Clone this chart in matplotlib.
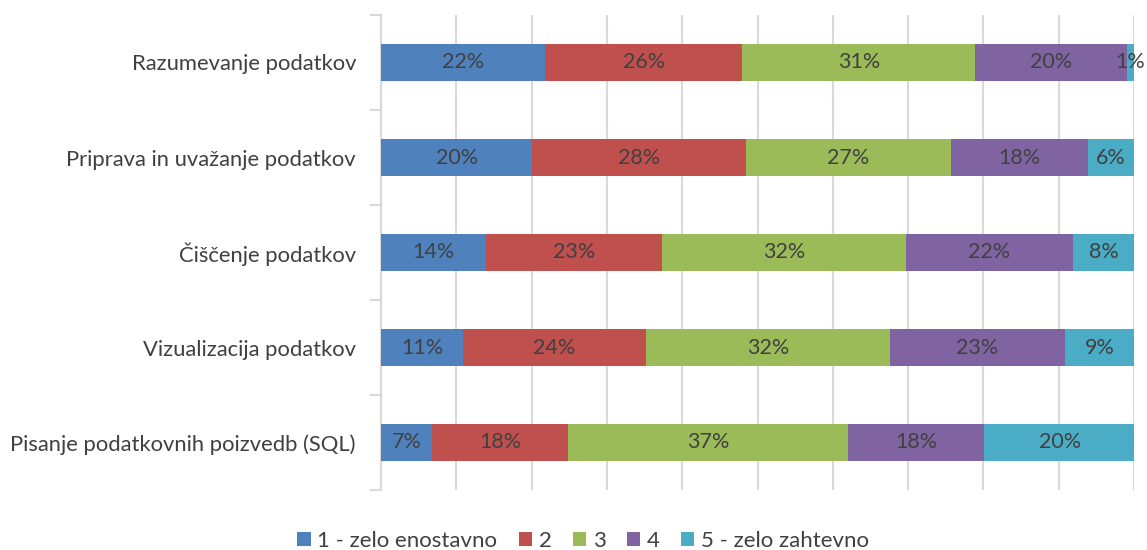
import matplotlib
matplotlib.use("Agg")
import matplotlib.pyplot as plt
import numpy as np

categories = ["Razumevanje podatkov", "Priprava in uvažanje podatkov", "Čiščenje podatkov",
              "Vizualizacija podatkov", "Pisanje podatkovnih poizvedb (SQL)"]
series_names = ["1 - zelo enostavno", "2", "3", "4", "5 - zelo zahtevno"]
s1 = [21.8, 20.1, 13.9, 10.9, 6.8]
s2 = [26.2, 28.4, 23.4, 24.3, 18.1]
s3 = [30.9, 27.2, 32.4, 32.4, 37.1]
s4 = [20.2, 18.2, 22.2, 23.2, 18.1]
s5 = [0.9, 6.1, 8.1, 9.2, 20.1]
colors = ["#4F81BD", "#C0504D", "#9BBB59", "#8064A2", "#4BACC6"]

plt.rcParams['font.family'] = ['Lato', 'DejaVu Sans']
fig = plt.figure(figsize=(11.47, 5.5), dpi=100)
ax = fig.add_axes([381/1147, 1-490/550, (1134-381)/1147, 475/550])

series = [s1, s2, s3, s4, s5]
y = np.arange(len(categories))
left = np.zeros(len(categories))
for vals, name, c in zip(series, series_names, colors):
    vals = np.array(vals)
    ax.barh(y, vals, left=left, height=0.39, color=c, label=name, zorder=3)
    for yi, (l, v) in enumerate(zip(left, vals)):
        ax.text(l + v/2, yi, f"{round(v):.0f}%", ha="center", va="center",
                fontsize=15.5, color="#404040", zorder=4)
    left += vals

ax.set_xlim(0, 100)
ax.set_ylim(len(categories)-0.5, -0.5)
ax.set_xticks(np.arange(0, 101, 10))
ax.xaxis.grid(True, color="#D9D9D9", linewidth=1.5, zorder=0)
ax.tick_params(axis="x", bottom=False, labelbottom=False)
ax.set_yticks(np.arange(-0.5, len(categories), 1))
ax.set_yticklabels([])
ax.set_yticks(y, minor=True)
ax.set_yticklabels(categories, minor=True, fontsize=15.8, color="#404040")
ax.tick_params(axis="y", which="minor", length=0, pad=18)
ax.tick_params(axis="y", which="major", length=8, width=1.5, color="#D9D9D9", direction="out")
for s in ["top", "right", "bottom"]:
    ax.spines[s].set_visible(False)
ax.spines["left"].set_color("#D9D9D9")
ax.spines["left"].set_linewidth(1.5)

leg = fig.legend(loc="center", bbox_to_anchor=(583/1147, 1-541/550), ncol=5, frameon=False,
                 fontsize=16, handlelength=0.6, handleheight=0.6, handletextpad=0.3,
                 columnspacing=0.95)
for t in leg.get_texts():
    t.set_color("#404040")

fig.savefig("out.png", dpi=100)
